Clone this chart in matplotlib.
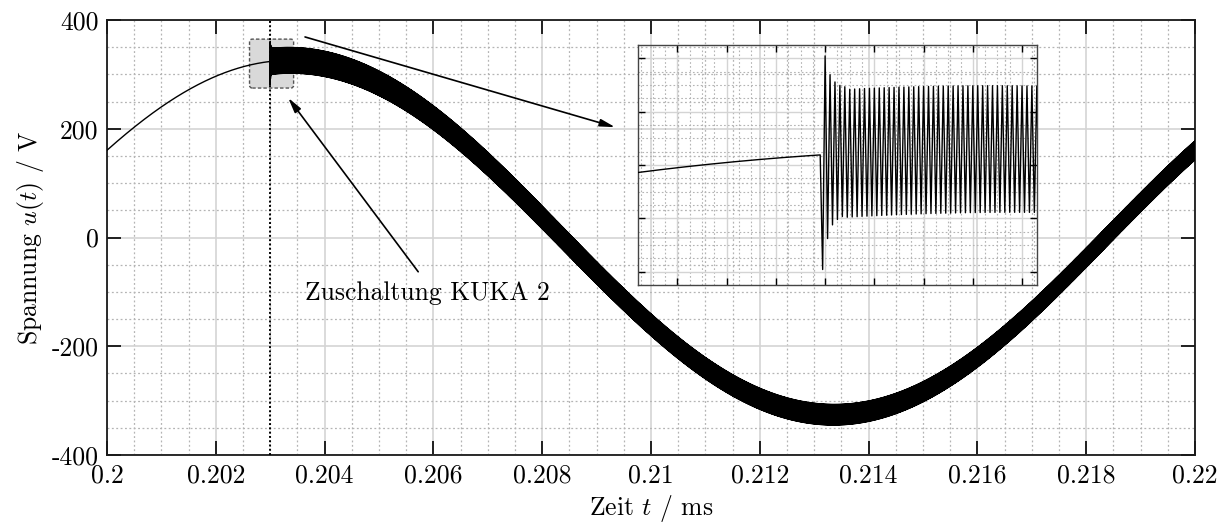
import numpy as np
import matplotlib
matplotlib.use("Agg")
import matplotlib.pyplot as plt
from matplotlib.patches import FancyBboxPatch
from matplotlib.ticker import MultipleLocator, FixedLocator

plt.rcParams['font.family'] = ['cmr10', 'DejaVu Serif']
plt.rcParams['mathtext.fontset'] = 'cm'
plt.rcParams['axes.unicode_minus'] = False
plt.rcParams['axes.formatter.use_mathtext'] = True

# ---------------- data ----------------
t_start, t_end = 0.200, 0.220          # s
grid_freq = 50.0                        # Hz
u_peak = 326.0                          # V
u_phase = 0.515                         # rad at t_start
t_switch = 0.20299                      # switching instant "Zuschaltung KUKA 2"
ripple_step = 5e-6                      # s between ripple samples
ripple_amp_start = 24.0                 # V ripple amplitude just after switching
ripple_amp_final = 16.0                 # V ripple amplitude it settles to
ripple_tau = 0.0105                     # s settling time constant of the ripple
transient_offsets = [-43.0, 37.0, -31.5, 29.8, -26.5, 27.0, -24.6, 25.6, -23.6, 25.0]

xtick_vals = [0.200, 0.202, 0.204, 0.206, 0.208, 0.210, 0.212, 0.214, 0.216, 0.218, 0.220]
xtick_labels = ['0.2', '0.202', '0.204', '0.206', '0.208', '0.21', '0.212', '0.214', '0.216', '0.218', '0.22']
ytick_vals = [-400, -200, 0, 200, 400]
ytick_labels = ['-400', '-200', '0', '200', '400']

inset_xlim = (0.20262, 0.20343)
inset_ylim = (275, 365)

# ---------------- waveform ----------------
def fundamental(t):
    return u_peak * np.sin(2 * np.pi * grid_freq * (t - t_start) + u_phase)

t_pre = np.linspace(t_start, t_switch, 600)
u_pre = fundamental(t_pre)
n_post = int(round((t_end - t_switch) / ripple_step))
k = np.arange(1, n_post + 1)
t_post = t_switch + k * ripple_step
sign = np.where(k % 2 == 1, -1.0, 1.0)
amp = ripple_amp_final + (ripple_amp_start - ripple_amp_final) * np.exp(-(t_post - t_switch) / ripple_tau)
offs = sign * amp
offs[:len(transient_offsets)] = transient_offsets
u_post = fundamental(t_post) + offs
t_all = np.concatenate([t_pre, t_post])
u_all = np.concatenate([u_pre, u_post])

# ---------------- figure ----------------
fig = plt.figure(figsize=(12.27, 5.29), dpi=100)
ax = fig.add_axes([0.0872, 0.140, 0.8868, 0.822])

major_c = '#d4d4d4'
minor_c = '#b4b4b4'

ax.set_xlim(t_start, t_end)
ax.set_ylim(-400, 400)
ax.xaxis.set_major_locator(FixedLocator(xtick_vals))
ax.xaxis.set_minor_locator(MultipleLocator(0.0005))
ax.yaxis.set_major_locator(FixedLocator(ytick_vals))
ax.yaxis.set_minor_locator(MultipleLocator(50))
ax.grid(which='major', color=major_c, lw=1.2, ls='-')
ax.grid(which='minor', color=minor_c, lw=0.9, ls=(0, (1.5, 2)))
ax.set_axisbelow(True)
ax.tick_params(which='major', direction='in', length=10, width=1.2,
               top=True, right=True, labelsize=18.5, pad=6)
ax.tick_params(which='minor', length=0, top=True, right=True)
ax.set_xticklabels(xtick_labels)
ax.set_yticklabels(ytick_labels)
for s in ax.spines.values():
    s.set_linewidth(1.3)
    s.set_color('#1a1a1a')

ax.set_xlabel(r'Zeit $t$ / ms', fontsize=18.5, labelpad=4)
ax.set_ylabel(r'Spannung $u(t)$ / V', fontsize=18.5, labelpad=4)

# zoom rectangle
rect = FancyBboxPatch((inset_xlim[0], inset_ylim[0]),
                      inset_xlim[1] - inset_xlim[0], inset_ylim[1] - inset_ylim[0],
                      boxstyle='round,pad=0,rounding_size=0.00005', mutation_aspect=1e5,
                      facecolor='#d9d9d9', edgecolor='#555555', lw=1.0, ls=(0, (2.5, 1.5)),
                      zorder=2)
ax.add_patch(rect)

ax.axvline(t_switch, color='black', lw=1.4, ls=(0, (1, 1.2)), zorder=3)
ax.plot(t_all, u_all, color='black', lw=1.0, zorder=4)

# annotations
ax.annotate('', xy=(0.20934, 203), xytext=(0.20364, 369),
            arrowprops=dict(arrowstyle='-|>,head_length=0.9,head_width=0.22',
                            color='black', lw=1.2, shrinkA=0, shrinkB=0), zorder=5)
ax.annotate('', xy=(0.20333, 257), xytext=(0.20572, -63),
            arrowprops=dict(arrowstyle='-|>,head_length=0.9,head_width=0.22',
                            color='black', lw=1.2, shrinkA=0, shrinkB=0), zorder=5)
ax.text(0.20364, -102, 'Zuschaltung KUKA 2', fontsize=18.5, ha='left', va='center', zorder=5)

# ---------------- inset ----------------
axi = fig.add_axes([0.520, 0.461, 0.325, 0.454])
axi.set_facecolor('none')
axi.set_xlim(*inset_xlim)
axi.set_ylim(*inset_ylim)
axi.xaxis.set_major_locator(MultipleLocator(0.0001))
axi.xaxis.set_minor_locator(MultipleLocator(0.000025))
axi.yaxis.set_major_locator(MultipleLocator(20))
axi.yaxis.set_minor_locator(MultipleLocator(5))
axi.grid(which='major', color=major_c, lw=1.0, ls='-')
axi.grid(which='minor', color=minor_c, lw=0.8, ls=(0, (1.5, 2)))
axi.set_axisbelow(True)
axi.tick_params(which='major', direction='in', length=5, width=1.0,
                top=True, right=True, labelbottom=False, labelleft=False)
axi.tick_params(which='minor', length=0)
for s in axi.spines.values():
    s.set_linewidth(1.0)
    s.set_color('#444444')
axi.plot(t_all, u_all, color='black', lw=1.0, zorder=4)

fig.savefig('out.png', dpi=100)
